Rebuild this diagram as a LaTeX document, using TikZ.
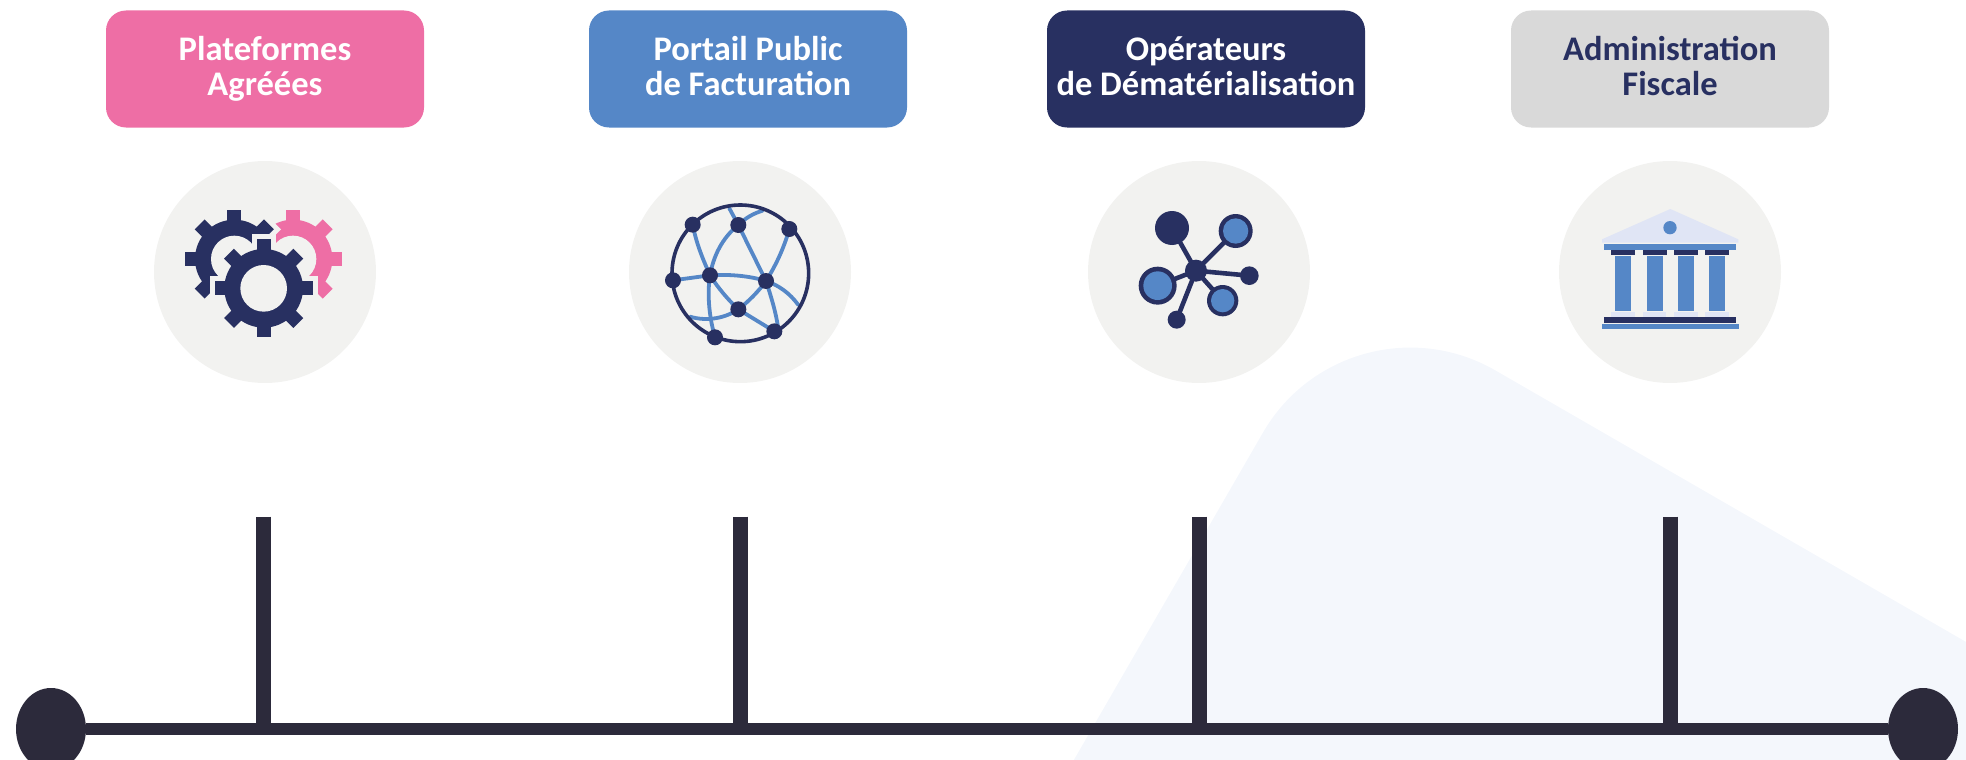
\documentclass[tikz,border=0pt]{standalone}
\usepackage{fontspec}
\setmainfont{Carlito}
\usetikzlibrary{shapes.geometric}
\definecolor{navy}{HTML}{283061}
\definecolor{pinkc}{HTML}{EE6EA5}
\definecolor{bluec}{HTML}{5587C7}
\definecolor{grayc}{HTML}{D9D9D9}
\definecolor{disc}{HTML}{F2F2F0}
\definecolor{axis}{HTML}{2C2A3B}
\definecolor{wash}{HTML}{F4F7FC}
\definecolor{pale}{HTML}{E0E5F5}
\tikzset{
  titlebox/.style={rounded corners=20pt,minimum width=318pt,minimum height=117pt,inner sep=0pt,
    align=center,font=\fontsize{34.5}{35}\selectfont\bfseries,text=white},
  icondisc/.style={circle,fill=disc,minimum size=222pt,inner sep=0pt},
  axisline/.style={draw=axis,line width=12.5pt},
  ticklink/.style={draw=axis,line width=15pt},
  axisend/.style={ellipse,fill=axis,minimum width=70pt,minimum height=82pt,inner sep=0pt},
  zoomscale/.style={x=0.33333pt,y=-0.33333pt},
  netline/.style={draw=bluec,line width=3.8pt,line cap=round},
  hubline/.style={draw=navy,line width=4.6pt},
}
\newcommand{\evenline}{\vphantom{Égl}}
\newcommand{\lastline}{\vphantom{Égl}\rule[-10pt]{0pt}{1pt}}
\newcommand{\gearteeth}[3]{%
  \foreach \a in {0,45,...,315}{%
    \path[#3,rotate around={\a:(#1,#2)}] (#1-21,#2-147) rectangle (#1+21,#2-100);
  }%
  \path[#3] (#1,#2) circle (118);
}
\newcommand{\gearicon}[3]{%
  \gearteeth{#1}{#2}{draw=disc,line width=10pt,fill=disc}%
  \gearteeth{#1}{#2}{fill=#3}%
  \fill[disc] (#1,#2) circle (70);
}
\begin{document}
\begin{tikzpicture}[x=1pt,y=-1pt]
\useasboundingbox (0,0) rectangle (1966,760);
\clip (0,0) rectangle (1966,760);
\fill[wash,rounded corners=170pt] (1348,285.4) -- (848,1151) -- (1714,1651) -- (2214,785) -- cycle;

\node[icondisc] (d1) at (265,272) {};
\node[icondisc] (d2) at (740,272) {};
\node[icondisc] (d3) at (1199,272) {};
\node[icondisc] (d4) at (1670,272) {};

\node[titlebox,fill=pinkc] (b1) at (265,69) {\evenline Plateformes\\\lastline Agréées};
\node[titlebox,fill=bluec] (b2) at (748,69) {\evenline Portail Public\\\lastline de Facturation};
\node[titlebox,fill=navy] (b3) at (1206,69) {\evenline Opérateurs\\\lastline de Dématérialisation};
\node[titlebox,fill=grayc,text=navy] (b4) at (1670,69) {\evenline Administration\\\lastline Fiscale};

% gears
\begin{scope}[shift={(150,170)},zoomscale]
  \gearicon{429}{267}{pinkc}
  \gearicon{253}{267}{navy}
  \gearicon{341}{355}{navy}
\end{scope}

% network
\begin{scope}[shift={(630,170)},zoomscale]
  \draw[netline] (188,164) .. controls (200,225) and (220,270) .. (240,316);
  \draw[netline] (325,165) .. controls (275,205) and (250,260) .. (240,316);
  \draw[netline] (325,165) -- (408,333);
  \draw[netline] (478,177) .. controls (460,240) and (435,290) .. (408,333);
  \draw[netline] (129,331) -- (240,316);
  \draw[netline] (240,316) .. controls (300,312) and (360,318) .. (408,333);
  \draw[netline] (240,316) .. controls (265,355) and (295,390) .. (325,418);
  \draw[netline] (325,418) .. controls (355,395) and (385,365) .. (408,333);
  \draw[netline] (240,316) .. controls (230,380) and (240,450) .. (255,502);
  \draw[netline] (325,418) -- (433,484);
  \draw[netline] (408,333) .. controls (425,385) and (440,435) .. (445,480);
  \draw[netline] (408,333) .. controls (445,345) and (480,370) .. (505,405);
  \draw[netline] (325,418) .. controls (285,445) and (230,455) .. (180,440);
  \draw[netline] (325,165) -- (298,115);
  \draw[netline] (325,165) .. controls (345,145) and (370,130) .. (398,122);
  \draw[navy,line width=3.6pt] (331,310) circle (205);
  \foreach \p in {(188,164),(325,165),(478,177),(129,331),(240,316),(408,333),(325,418),(255,502),(433,484)}
    \fill[navy] \p circle (24);
\end{scope}

% hub
\begin{scope}[shift={(1090,170)},zoomscale]
  \draw[hubline] (318,302) -- (246,174);
  \draw[hubline] (318,302) -- (437,183);
  \draw[hubline] (318,302) -- (203,347);
  \draw[hubline] (318,302) -- (398,392);
  \draw[hubline] (318,302) -- (478,317);
  \draw[hubline] (318,302) -- (260,449);
  \fill[navy] (318,302) circle (33);
  \fill[navy] (246,174) circle (51);
  \fill[navy] (437,183) circle (51);
  \fill[bluec] (437,183) circle (38);
  \fill[navy] (203,347) circle (57);
  \fill[bluec] (203,347) circle (43);
  \fill[navy] (398,392) circle (47);
  \fill[bluec] (398,392) circle (35);
  \fill[navy] (478,317) circle (28);
  \fill[navy] (260,449) circle (27);
\end{scope}

% bank
\begin{scope}[shift={(1560,190)},zoomscale]
  \fill[pale] (331,57) -- (535,148) -- (535,158) -- (126,158) -- (126,148) -- cycle;
  \fill[bluec] (330,113) circle (20);
  \fill[bluec] (132,162) rectangle (528,180);
  \foreach \l/\r in {153/225,249/321,342/414,435/507}
    \fill[navy] (\l,180) rectangle (\r,195);
  \foreach \l/\r in {165/213,261/309,354/402,447/495}
    \fill[bluec] (\l,198) rectangle (\r,363);
  \foreach \l/\r in {153/225,249/319,342/414,436/508}
    \fill[pale] (\l,365) rectangle (\r,380);
  \fill[navy] (132,381) rectangle (528,399);
  \fill[bluec] (126,402) rectangle (537,417);
\end{scope}

% timeline
\node[axisend] (start) at (51,729) {};
\node[axisend] (finish) at (1923,729) {};
\draw[axisline] (start) -- (finish);
\foreach \n/\x in {1/263.5,2/740,3/1199.5,4/1670.5}{
  \coordinate (top\n) at (\x,516.5);
  \coordinate (foot\n) at (\x,729);
  \draw[ticklink] (top\n) -- (foot\n);
}
\end{tikzpicture}
\end{document}
